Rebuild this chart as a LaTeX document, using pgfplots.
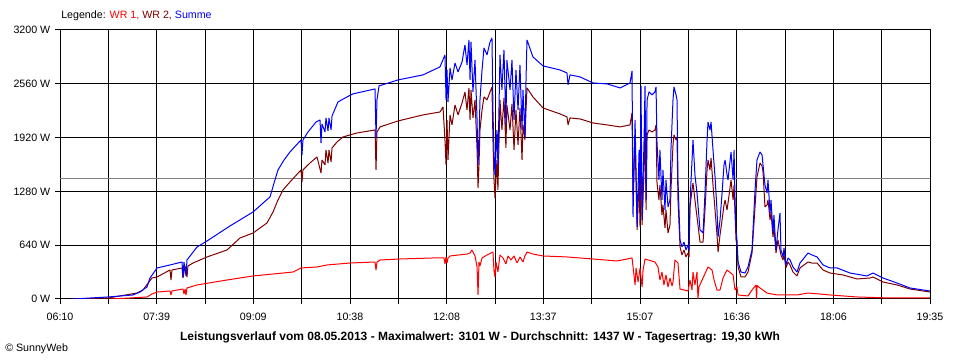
\documentclass[border=0pt]{standalone}
\usepackage{pgfplots}
\pgfplotsset{compat=1.18}
\usepackage{fontspec}
\setmainfont{Liberation Sans}
\definecolor{wrone}{RGB}{255,0,0}
\definecolor{wrtwo}{RGB}{128,0,0}
\definecolor{summe}{RGB}{0,0,255}
\definecolor{avg}{RGB}{128,128,128}
\begin{document}
\begin{tikzpicture}
\useasboundingbox (-45pt,-45.75pt) rectangle (675pt,224.25pt);
\begin{axis}[
  at={(0,0)}, anchor=south west,
  scale only axis, width=652.5pt, height=201.75pt,
  xmin=0, xmax=805, ymin=0, ymax=3200,
  xtick={0,44.72,89.44,134.17,178.89,223.61,268.33,313.06,357.78,402.5,447.22,491.94,536.67,581.39,626.11,670.83,715.56,760.28,805},
  xticklabels={06:10,,07:39,,09:09,,10:38,,12:08,,13:37,,15:07,,16:36,,18:06,,19:35},
  ytick={0,640,1280,1920,2560,3200},
  yticklabels={0 W,640 W,1280 W,1920 W,2560 W,3200 W},
  xtick pos=left, ytick pos=left,
  tick align=outside, major tick length=3.75pt,
  grid=major, major grid style={black, line width=0.75pt},
  axis line style={black, line width=0.75pt},
  tick style={black, line width=0.75pt},
  tick label style={font=\fontsize{8}{9}\selectfont},
  xticklabel style={yshift=-3pt},
  every axis plot/.append style={line width=0.75pt, line join=bevel},
]
\addplot[avg, line width=0.75pt] coordinates {(0,1437) (805,1437)};
\addplot[wrone] coordinates {
(46.3,0)(64.8,12)(80.5,24)(85.1,59)(89.8,83)(101.8,95)(102.7,48)(103.6,95)(113.8,119)(114.7,59)(115.7,119)(116.6,48)(117.5,131)(126.8,167)(154.5,226)(178.6,274)(215.6,321)(223,369)(237.8,381)(247.1,405)(268.3,428)(291.5,440)(292.4,345)(293.3,440)(296.1,464)(314.6,476)(345.1,488)(355.3,488)(356.2,416)(357.2,500)(358.1,428)(359,488)(360.9,512)(376.6,535)(379.4,547)(381.2,583)(384,512)(385.9,381)(386.8,48)(387.7,440)(388.6,393)(390.5,488)(395.1,524)(400.6,559)(401.5,345)(402.5,262)(403.4,440)(405.2,321)(407.1,524)(409.9,488)(412.6,416)(414.5,512)(417.3,464)(420.1,512)(422.9,428)(425.6,500)(428.4,440)(430.2,512)(432.1,559)(437.6,535)(446.9,512)(469.1,500)(493.2,476)(515.4,452)(529.3,488)(532.1,167)(533,369)(534.9,202)(536.7,369)(538.6,143)(539.5,345)(541.3,476)(550.5,440)(553.3,381)(555.1,226)(557,321)(558.8,167)(560.7,286)(562.6,143)(564.4,250)(566.3,155)(567.2,202)(569,464)(571.8,428)(573.7,119)(581.1,95)(582.9,226)(584.8,107)(585.7,321)(587.5,167)(589.4,321)(590.3,0)(591.2,143)(599.6,381)(603.3,345)(605.2,226)(607.9,107)(610.7,107)(613.5,250)(617.2,345)(622.8,286)(624.6,107)(626.4,143)(627.4,48)(636.6,36)(640.3,107)(644,167)(644.5,0)(645,160)(647.7,131)(654.2,71)(663.4,48)(681.9,48)(692.1,71)(703.2,59)(712.5,48)(737.5,24)(768,12)(805,12)
};
\addplot[wrtwo] coordinates {
(12,0)(44.4,12)(71.2,71)(76.8,107)(85.1,250)(89.8,262)(101.8,345)(102.7,226)(103.6,345)(112.9,369)(113.8,250)(115.7,393)(117.5,262)(118.4,393)(123.1,428)(136,500)(154.5,583)(166.6,726)(178.6,785)(191.5,904)(197.1,1035)(201.7,1178)(206.3,1297)(212.8,1392)(223,1535)(223.9,1392)(224.8,1535)(231.3,1618)(237.8,1690)(241.5,1499)(242.4,1654)(245.2,1595)(246.1,1773)(248,1618)(248.9,1773)(250.8,1630)(251.7,1797)(256.3,1868)(261.9,1928)(274.8,1975)(291.5,2011)(292.4,1535)(293.3,1987)(296.1,2047)(312.8,2118)(335.9,2190)(351.6,2225)(354.4,2285)(356.2,1892)(357.2,1595)(358.1,2130)(359,1654)(360.9,2190)(362.7,2071)(365.5,2309)(368.3,2190)(372,2332)(374.7,2463)(376.6,2249)(378.4,2511)(379.4,2130)(380.3,2487)(382.1,2154)(384,2368)(385.9,1773)(386.8,1321)(387.7,1595)(388.6,2011)(390.5,2249)(392.3,2404)(395.1,2368)(397.9,2463)(399.7,2523)(400.6,1892)(401.5,1440)(402.5,1202)(404.3,1654)(405.2,1297)(407.1,2368)(408.9,2011)(410.8,2392)(412.6,1797)(413.5,2309)(416.4,2011)(418.2,2321)(420.1,1773)(421.9,2249)(423.8,1833)(425.6,2273)(427.5,1654)(428.4,2071)(430.2,1892)(431.2,2249)(432.1,2511)(437.6,2404)(446.9,2273)(462.6,2202)(469.1,2166)(470.1,2071)(471.9,2154)(481.2,2142)(493.2,2094)(506.1,2071)(518.2,2047)(527.4,2071)(529.3,2213)(530.2,1238)(532.1,1892)(534,821)(535.8,1416)(536.7,857)(537.6,1975)(538.6,881)(540.4,1535)(541.3,2035)(542.3,1059)(543.2,1952)(545,2011)(547.8,1987)(550.5,2011)(551.5,2071)(552.4,1380)(554.2,1178)(555.1,1357)(557,1000)(557.9,1119)(559.8,845)(560.7,1059)(562.6,785)(564.4,881)(565.3,1297)(567.2,1833)(568.1,1952)(570,1892)(570.9,1928)(571.8,1178)(573.7,619)(575.5,524)(577.4,583)(579.2,500)(581.1,547)(582,500)(582.9,1095)(584.8,1297)(585.7,1380)(587.5,1178)(589.4,976)(592.2,678)(595,678)(596.8,1059)(598.7,1535)(599.6,1654)(601.4,1535)(602.4,1678)(604.2,1357)(606.1,1059)(607.9,762)(608.9,559)(610.7,762)(612.6,940)(614.4,1119)(615.4,1178)(617.2,1059)(618.1,1142)(620.9,1416)(622.8,1178)(623.7,1357)(624.6,1000)(625.5,702)(626.4,643)(627.4,381)(630.1,262)(633.8,262)(636.6,321)(640.3,547)(643.1,1095)(644.9,1452)(647.7,1618)(649.6,1583)(650.5,1511)(652.3,1095)(654.2,1119)(655.1,1178)(657,940)(657.9,1035)(659.7,738)(660.6,845)(662.5,547)(664.3,702)(666.2,583)(667.1,524)(669,464)(669.9,524)(671.7,369)(673.6,440)(675.5,405)(678.2,321)(681.9,274)(684.7,369)(692.1,440)(695.8,428)(700.5,428)(706,345)(712.5,309)(724.5,286)(737.5,238)(749.5,250)(752.3,262)(761.5,202)(774.5,167)(786.5,119)(805,83)
};
\addplot[summe] coordinates {
(12,0)(44.4,24)(67.5,48)(74.0,83)(80.5,143)(83.3,250)(89.8,369)(101.8,405)(112.9,440)(113.8,262)(114.7,440)(116.6,274)(117.5,464)(126.8,619)(136,690)(157.3,869)(178.6,1035)(186.9,1130)(194.3,1214)(198.9,1416)(201.7,1535)(207.3,1654)(212.8,1749)(223,1892)(223.9,1714)(224.8,1892)(229.5,1987)(236.9,2106)(240.6,2130)(241.5,1856)(242.4,2083)(245.2,1987)(246.1,2154)(248,1999)(248.9,2154)(250.8,2011)(251.7,2178)(257.2,2344)(265.6,2404)(271.1,2440)(291.5,2499)(292.4,1916)(293.3,2368)(295.2,2535)(312.8,2606)(335.9,2666)(351.6,2761)(356.2,2904)(357.2,2368)(358.1,2725)(359,2344)(360.9,2749)(362.7,2606)(365.5,2808)(368.3,2701)(372,2820)(374.7,3023)(376.6,2785)(378.4,3082)(379.4,2606)(380.3,3058)(382.1,2463)(384,2844)(385.9,2130)(386.8,1595)(387.7,1892)(388.6,2368)(390.5,2725)(392.3,2987)(395.1,2904)(397.9,3058)(399.7,3106)(400.6,2249)(401.5,1773)(402.5,1476)(404.3,2011)(405.2,1595)(407.1,2904)(408.9,2487)(410.8,2963)(412.6,2071)(413.5,2844)(416.4,2487)(418.2,2844)(420.1,2130)(421.9,2725)(423.8,2249)(425.6,2785)(427.5,2011)(428.4,2487)(430.2,1916)(431.2,2606)(432.1,3082)(437.6,2880)(446.9,2773)(462.6,2725)(469.1,2689)(470.1,2547)(471.9,2666)(481.2,2642)(493.2,2570)(506.1,2559)(518.2,2511)(527.4,2570)(529.3,2713)(530.2,976)(532.1,2130)(534,857)(535.8,1773)(536.7,1178)(537.6,2535)(538.6,940)(540.4,1892)(541.3,2535)(542.3,1178)(543.2,2368)(545,2463)(547.8,2428)(550.5,2463)(551.5,2523)(552.4,1856)(554.2,1416)(555.1,1773)(557,1178)(557.9,1535)(559.8,1059)(560.7,1416)(562.6,1095)(564.4,1178)(565.3,1773)(567.2,2368)(568.1,2523)(570,2428)(570.9,2368)(571.8,1416)(573.7,702)(575.5,619)(577.4,678)(579.2,583)(581.1,643)(582,583)(582.9,1142)(584.8,1654)(585.7,1892)(587.5,1476)(589.4,1261)(592.2,821)(595,785)(596.8,1261)(598.7,1892)(599.6,2106)(601.4,2011)(602.4,2106)(604.2,1773)(606.1,1452)(607.9,1059)(608.9,738)(610.7,940)(612.6,1261)(614.4,1595)(615.4,1654)(617.2,1476)(618.1,1416)(620.9,1749)(622.8,1416)(623.7,1773)(624.6,1178)(625.5,821)(626.4,702)(627.4,440)(630.1,321)(633.8,309)(636.6,381)(640.3,583)(643.1,1297)(644.9,1654)(647.7,1749)(649.6,1713)(650.5,1595)(652.3,1357)(654.2,1261)(655.1,1416)(657,1023)(657.9,1178)(659.7,785)(660.6,1000)(662.5,583)(664.3,821)(666.2,1023)(667.1,583)(669,500)(669.9,607)(671.7,405)(673.6,488)(675.5,464)(678.2,381)(681.9,321)(684.7,428)(692.1,547)(695.8,524)(700.5,500)(706,405)(712.5,369)(719,369)(731,309)(746.7,274)(752.3,309)(761.5,250)(774.5,190)(786.5,131)(805,95)
};
\end{axis}
\node[anchor=west, inner sep=0pt, font=\fontsize{8}{9}\selectfont] at (0.75pt,212.5pt)
  {Legende: \textcolor{wrone}{WR 1,} \textcolor{wrtwo}{WR 2,} \textcolor{summe}{Summe}};
\node[inner sep=0pt, font=\fontsize{9}{10}\selectfont\bfseries] at (315pt,-28.5pt)
  {Leistungsverlauf vom 08.05.2013 - Maximalwert: 3101 W - Durchschnitt: 1437 W - Tagesertrag: 19,30 kWh};
\node[anchor=west, inner sep=0pt, font=\fontsize{8}{9}\selectfont] at (-41.25pt,-37.5pt)
  {\textcopyright\ SunnyWeb};
\end{tikzpicture}
\end{document}
